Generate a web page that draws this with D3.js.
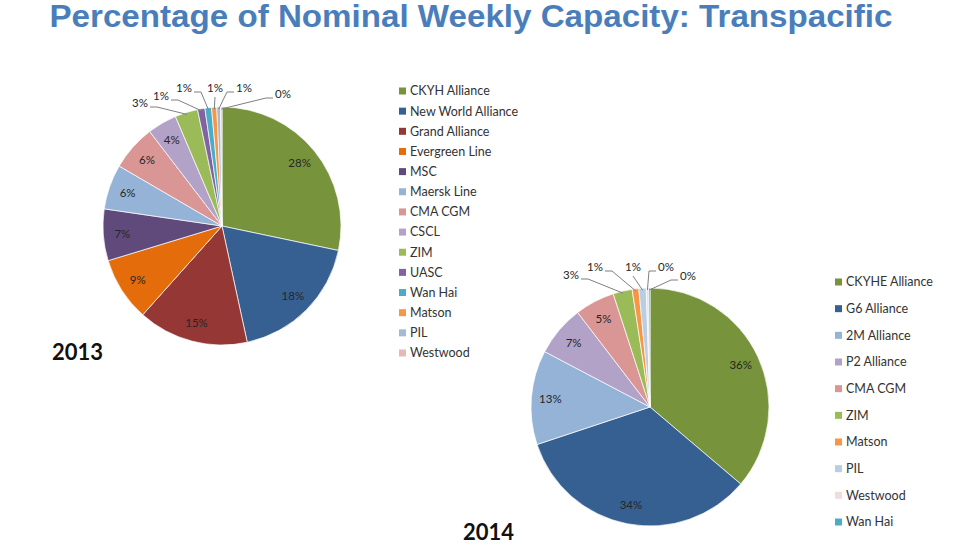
<!DOCTYPE html>
<html><head><meta charset="utf-8">
<script src="https://cdn.jsdelivr.net/npm/d3@7"></script>
<style>body{margin:0;background:#fff}svg{display:block}</style>
</head><body>
<svg id="c" width="970" height="546"></svg>
<script>
// ---- data ----
const title = "Percentage of Nominal Weekly Capacity: Transpacific";
const cats2013 = ["CKYH Alliance","New World Alliance","Grand Alliance","Evergreen Line","MSC","Maersk Line","CMA CGM","CSCL","ZIM","UASC","Wan Hai","Matson","PIL","Westwood"];
const vals2013 = [28.3,18.3,15.0,8.7,7.0,6.1,6.2,4.0,3.1,1.0,0.9,0.7,0.5,0.2];
const cols2013 = ["#77933c","#376092","#953735","#e46c0a","#604a7b","#95b3d7","#d99694","#b3a2c7","#9bbb59","#8064a2","#4bacc6","#f79646","#a6b9d3","#e6b9b8"];
const cats2014 = ["CKYHE Alliance","G6 Alliance","2M Alliance","P2 Alliance","CMA CGM","ZIM","Matson","PIL","Westwood","Wan Hai"];
const vals2014 = [36.2,33.7,12.8,6.9,5.4,2.6,0.9,1.0,0.3,0.2];
const cols2014 = ["#77933c","#376092","#95b3d7","#b3a2c7","#d99694","#9bbb59","#f79646","#b9cde5","#f2dcdb","#4bacc6"];

// ---- layout (label placement for small slices, offsets from pie centre) ----
const outside2013 = {8:[-82,-123],9:[-61,-130],10:[-38,-138],11:[-7,-138],12:[22,-138],13:[61,-132]};
const outside2014 = {5:[-79,-132],6:[-55,-140],7:[-17,-140],8:[16,-140],9:[38,-131]};

const svg = d3.select("#c");
svg.append("text").attr("x",471).attr("y",27).attr("text-anchor","middle")
  .attr("font-family","Liberation Sans").attr("font-weight","bold").attr("font-size",31)
  .attr("fill","#4a7ebb").attr("textLength",843).attr("lengthAdjust","spacingAndGlyphs").text(title);

function drawPie(cfg){
  const g = svg.append("g").attr("transform",`translate(${cfg.cx},${cfg.cy})`);
  const pie = d3.pie().sort(null).value(d=>d)(cfg.vals);
  const arc = d3.arc().innerRadius(0).outerRadius(cfg.r);
  const lab = d3.arc().innerRadius(cfg.r*0.84).outerRadius(cfg.r*0.84);
  const edge = d3.arc().innerRadius(cfg.r-2).outerRadius(cfg.r-2);
  g.selectAll("path.s").data(pie).join("path").attr("class","s")
    .attr("d",arc).attr("fill",(d,i)=>cfg.cols[i]).attr("stroke","#fff").attr("stroke-width",0.7);
  const fmt = v=>Math.round(v)+"%";
  pie.forEach((d,i)=>{
    const o = cfg.outside[i];
    if(!o){
      const [x,y]=lab.centroid(d);
      g.append("text").attr("x",x).attr("y",y).attr("dy","0.35em").attr("text-anchor","middle")
        .attr("font-family","Lato").attr("font-size",11.5).attr("fill","#262626").text(fmt(cfg.vals[i]));
    } else {
      const [ex,ey]=edge.centroid(d);
      const [lx,ly]=o;
      const hw=9;
      let pts;
      if(lx < ex-12) pts=[[lx+hw+1,ly+4],[lx+hw+8,ly+4],[ex,ey]];
      else if(lx > ex+12) pts=[[lx-hw-1,ly+4],[lx-hw-8,ly+4],[ex,ey]];
      else pts=[[lx,ly+9],[ex,ey]];
      g.append("path").attr("d",d3.line()(pts)).attr("fill","none").attr("stroke","#7f7f7f").attr("stroke-width",1);
      g.append("text").attr("x",lx).attr("y",ly).attr("dy","0.35em").attr("text-anchor","middle")
        .attr("font-family","Lato").attr("font-size",11.5).attr("fill","#262626").text(fmt(cfg.vals[i]));
    }
  });
  // legend
  const lg = svg.append("g");
  const ys = d3.scalePoint().domain(cfg.cats).range([cfg.ly0,cfg.ly1]);
  cfg.cats.forEach((c,i)=>{
    lg.append("rect").attr("x",cfg.lx).attr("y",ys(c)-3.5).attr("width",7).attr("height",7).attr("fill",cfg.cols[i]);
    lg.append("text").attr("x",cfg.lx+11).attr("y",ys(c)).attr("dy","0.35em")
      .attr("font-family","Lato").attr("font-size",cfg.lfs).attr("fill","#333").text(c);
  });
  svg.append("text").attr("x",cfg.yx).attr("y",cfg.yy).attr("font-family","Lato").attr("font-weight","bold")
    .attr("font-size",22).attr("fill","#111").text(cfg.year);
}

drawPie({cx:222,cy:226,r:119,vals:vals2013,cols:cols2013,cats:cats2013,outside:outside2013,
  lx:399,ly0:91,ly1:353,lfs:12.5,year:"2013",yx:52,yy:360});
drawPie({cx:650,cy:407,r:119,vals:vals2014,cols:cols2014,cats:cats2014,outside:outside2014,
  lx:835,ly0:282,ly1:522,lfs:12.5,year:"2014",yx:463,yy:540});
</script>
</body></html>
